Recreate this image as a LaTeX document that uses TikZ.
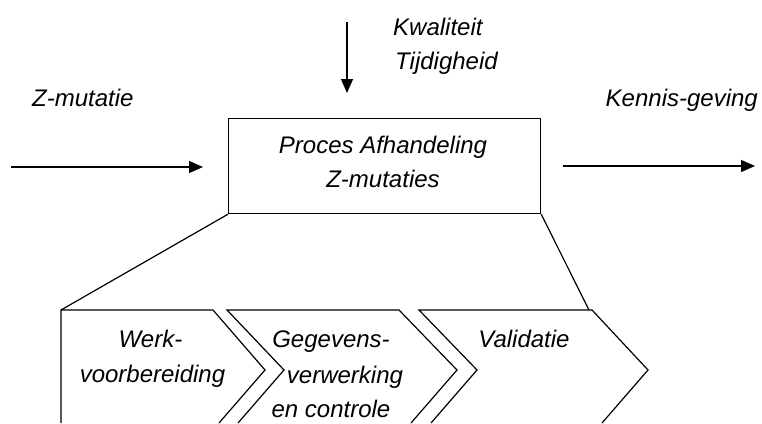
\documentclass[tikz,border=0pt]{standalone}
\usepackage{fontspec}
\setmainfont{Liberation Sans}
\usetikzlibrary{arrows.meta}
\begin{document}
\begin{tikzpicture}[x=1pt,y=-1pt,
  lbl/.style={inner sep=0pt,font=\fontsize{24}{34}\selectfont\itshape},
  ln/.style={line width=1.2pt,line join=miter},
  arr/.style={ln,-{Triangle[length=14pt,width=12pt]}}]
\useasboundingbox (0,0) rectangle (762,423);
% main box
\node[ln,draw,minimum width=312pt,minimum height=95pt,inner sep=0pt,anchor=north west] (box) at (228,118) {};
\node[lbl,anchor=base] (t1) at (383,153) {Proces Afhandeling};
\node[lbl,anchor=base] (t2) at (383,187) {Z-mutaties};
% labels
\node[lbl,anchor=base west] (zm) at (32,106) {Z-mutatie};
\node[lbl,anchor=base west] (kw) at (393,35) {Kwaliteit};
\node[lbl,anchor=base west] (tj) at (395,69) {Tijdigheid};
\node[lbl,anchor=base east] (kg) at (758,106) {Kennis-geving};
% arrows
\coordinate (inA) at (11,167);
\coordinate (inB) at (203,167);
\coordinate (outA) at (563,166);
\coordinate (outB) at (755,166);
\coordinate (dnA) at (347,22);
\coordinate (dnB) at (347,93);
\draw[arr] (inA) -- (inB);
\draw[arr] (outA) -- (outB);
\draw[arr] (dnA) -- (dnB);
% chevrons
\coordinate (c1a) at (61,423);
\coordinate (c1b) at (61,310);
\coordinate (c1c) at (213,310);
\coordinate (c1d) at (265,370);
\coordinate (c1e) at (219,423);
\coordinate (c2a) at (238,423);
\coordinate (c2b) at (284,370);
\coordinate (c2c) at (227,310);
\coordinate (c2d) at (399,310);
\coordinate (c2e) at (457,370);
\coordinate (c2f) at (411,423);
\coordinate (c3a) at (431,423);
\coordinate (c3b) at (477,370);
\coordinate (c3c) at (419,310);
\coordinate (c3d) at (592,310);
\coordinate (c3e) at (648,370);
\coordinate (c3f) at (602,423);
\coordinate (fanR) at (589,310);
\draw[ln] (c1a) -- (c1b) -- (c1c) -- (c1d) -- (c1e);
\draw[ln] (c2a) -- (c2b) -- (c2c) -- (c2d) -- (c2e) -- (c2f);
\draw[ln] (c3a) -- (c3b) -- (c3c) -- (c3d) -- (c3e) -- (c3f);
% fan lines from box
\draw[ln] (box.south west) -- (c1b);
\draw[ln] (box.south east) -- (fanR);
% chevron texts
\node[lbl,anchor=base] (w1) at (150.5,347) {Werk-};
\node[lbl,anchor=base] (w2) at (152.5,382) {voorbereiding};
\node[lbl,anchor=base] (g1) at (331,347) {Gegevens-};
\node[lbl,anchor=base] (g2) at (345,383) {verwerking};
\node[lbl,anchor=base] (g3) at (331,417) {en controle};
\node[lbl,anchor=base] (v1) at (524,347) {Validatie};
\end{tikzpicture}
\end{document}
